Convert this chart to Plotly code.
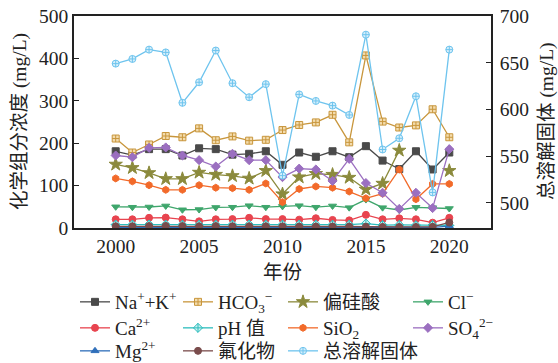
import plotly.graph_objects as go

years = list(range(2000, 2021))

na_k = [181, 172, 186, 186, 171, 188, 186, 173, 175, 181, 149, 178, 168, 181, 167, 193, 159, 139, 181, 138, 178]
ca = [20.5, 20.5, 24, 24.5, 20.5, 15.7, 20.5, 21, 24, 21, 21, 19.7, 23, 19, 18, 31, 20.5, 22.8, 20.5, 12.6, 24]
mg = [1.2, 1.2, 1.3, 1.2, 1.3, 1.2, 1.3, 1.2, 1.3, 1.2, 1.2, 1.3, 1.2, 1.3, 1.2, 1.3, 1.2, 1.2, 1.3, 1.5, 4.5]
hco3 = [211, 178, 197, 217, 214, 235, 207, 216, 206, 208, 231, 243, 249, 267, 202, 407, 251, 237, 242, 280, 214]
ph = [8.0, 8.0, 8.2, 8.0, 7.8, 7.6, 7.8, 8.0, 7.9, 7.8, 7.9, 8.0, 7.8, 7.9, 7.8, 10.5, 7.0, 7.2, 6.5, 7.0, 6.0]
fluoride = [4.0, 4.0, 4.5, 5.0, 4.5, 4.0, 4.5, 4.0, 4.0, 4.0, 3.8, 3.5, 3.5, 3.5, 3.5, 3.0, 2.5, 2.5, 2.5, 2.8, 13]
metasilicic = [150, 142, 130, 116, 116, 131, 126, 123, 117, 135, 80, 120, 128, 126, 119, 91, 105, 183, None, None, 135]
sio2 = [117, 110, 101, 90, 90, 101, 95, 94, 90, 105, 61, 92, 98, 95, 86, 70, 81, 138, 68, 104, 104]
cl = [50, 49, 49.5, 52, 43, 43.5, 48.5, 49, 52.6, 49, 51, 52.6, 49, 52, 48, 67, 48, 42.5, 48.8, 48, 46]
so4 = [171, 167, 189, 190, 171, 160, 145, 175, 160, 160, 120, 140, 138, 111, 163, 106, 83, 45, 83, 47, 186]
tds = [649, 654, 664, 661, 607, 629, 663, 628, 613, 627, 529, 616, 609, 604, 594, 680, 557, 569, 614, 511, 664]

x_ticks = [2000, 2005, 2010, 2015, 2020]
y_ticks = [0, 100, 200, 300, 400, 500]
y2_ticks = [500, 550, 600, 650, 700]

FONT = "Liberation Serif, Times New Roman, Noto Sans CJK SC, serif"

# legend grid: column left px, row centre px
col_x = [75, 178, 283, 408]
row_y = [302, 328, 351]

series = [
    # name, values, color, symbol, fill, (col,row), yaxis
    ("Na<sup>+</sup>+K<sup>+</sup>", na_k, "#4a4a4a", "square", "#4a4a4a", (0, 0), "y"),
    ("Ca<sup>2+</sup>", ca, "#e8444f", "circle", "#e8444f", (0, 1), "y"),
    ("Mg<sup>2+</sup>", mg, "#2f6fba", "triangle-up", "#2f6fba", (0, 2), "y"),
    ("HCO<sub>3</sub><sup>−</sup>", hco3, "#c8963c", "square-cross", "#f3dcae", (1, 0), "y"),
    ("pH 值", ph, "#2dbdbd", "diamond-cross", "#c9f0f0", (1, 1), "y"),
    ("氟化物", fluoride, "#7a4c4c", "circle", "#7a4c4c", (1, 2), "y"),
    ("偏硅酸", metasilicic, "#8b8a3c", "star", "#8b8a3c", (2, 0), "y"),
    ("SiO<sub>2</sub>", sio2, "#f26a2a", "hexagon", "#f26a2a", (2, 1), "y"),
    ("总溶解固体", tds, "#6ec4ee", "circle-cross", "#d6effb", (2, 2), "y2"),
    ("Cl<sup>−</sup>", cl, "#3fa66c", "triangle-down", "#3fa66c", (3, 0), "y"),
    ("SO<sub>4</sub><sup>2−</sup>", so4, "#9b6fc0", "diamond", "#9b6fc0", (3, 1), "y"),
]

# draw order: put TDS last so it's on top
order = [0, 3, 6, 9, 1, 4, 7, 10, 2, 5, 8]

plot_l, plot_r, plot_t, plot_b = 74, 491, 16, 228
W, H = 558, 363
pw = plot_r - plot_l
ph_ = plot_b - plot_t

def lx(px):
    return (px - plot_l) / pw

def ly(py):
    return (plot_b - py) / ph_

fig = go.Figure()
legend_layouts = {}
for n, i in enumerate(order):
    name, vals, color, sym, fill, (c, r), ya = series[i]
    legname = "legend" if n == 0 else f"legend{n + 1}"
    fig.add_trace(go.Scatter(
        x=years, y=vals, name=name, mode="lines+markers",
        line=dict(color=color, width=1.3),
        marker=dict(symbol=sym, size=7 if sym != "star" else 10, color=fill,
                    line=dict(color=color, width=1)),
        legend=legname, yaxis=ya, connectgaps=False,
    ))
    legend_layouts[legname] = dict(
        font=dict(family=FONT, size=19, color="#222"), bgcolor="rgba(0,0,0,0)",
        xanchor="left", yanchor="middle", orientation="v", itemwidth=30,
        x=lx(col_x[c]), y=ly(row_y[r]),
    )

axis_font = dict(family=FONT, size=19.5, color="#222")

fig.update_layout(
    width=W, height=H,
    margin=dict(l=plot_l, r=W - plot_r, t=plot_t, b=H - plot_b, autoexpand=False),
    paper_bgcolor="white", plot_bgcolor="white",
    font=dict(family=FONT, size=19, color="#222"),
    showlegend=True,
    xaxis=dict(range=[1997.5, 2022.5], tickvals=x_ticks,
               showgrid=False, zeroline=False, showline=True, linecolor="#222", linewidth=1.5,
               mirror=True, ticks="", tickfont=axis_font, ticklabelstandoff=0),
    yaxis=dict(range=[0, 500], tickvals=y_ticks,
               showgrid=False, zeroline=False, showline=True, linecolor="#222", linewidth=1.5,
               ticks="inside", ticklen=5, tickcolor="#222", tickwidth=1.2,
               tickfont=axis_font, ticklabelstandoff=0),
    yaxis2=dict(overlaying="y", side="right", range=[472.9, 700],
                tickvals=y2_ticks,
                showgrid=False, zeroline=False, showline=True, linecolor="#222", linewidth=1.5,
                ticks="inside", ticklen=5, tickcolor="#222", tickwidth=1.2,
                tickfont=axis_font, ticklabelstandoff=3),
    annotations=[
        dict(text="年份", xref="paper", yref="paper", x=lx(282), y=ly(272),
             xanchor="center", yanchor="middle", showarrow=False, font=axis_font),
        dict(text="化学组分浓度 (mg/L)", xref="paper", yref="paper", x=lx(20), y=ly(122),
             xanchor="center", yanchor="middle", textangle=-90, showarrow=False, font=axis_font),
        dict(text="总溶解固体 (mg/L)", xref="paper", yref="paper", x=lx(547), y=ly(121),
             xanchor="center", yanchor="middle", textangle=-90, showarrow=False, font=axis_font),
    ],
)
fig.update_layout(**legend_layouts)

fig.write_html("out.html", config={"displayModeBar": False},
               post_script="document.body.style.margin='0';")
